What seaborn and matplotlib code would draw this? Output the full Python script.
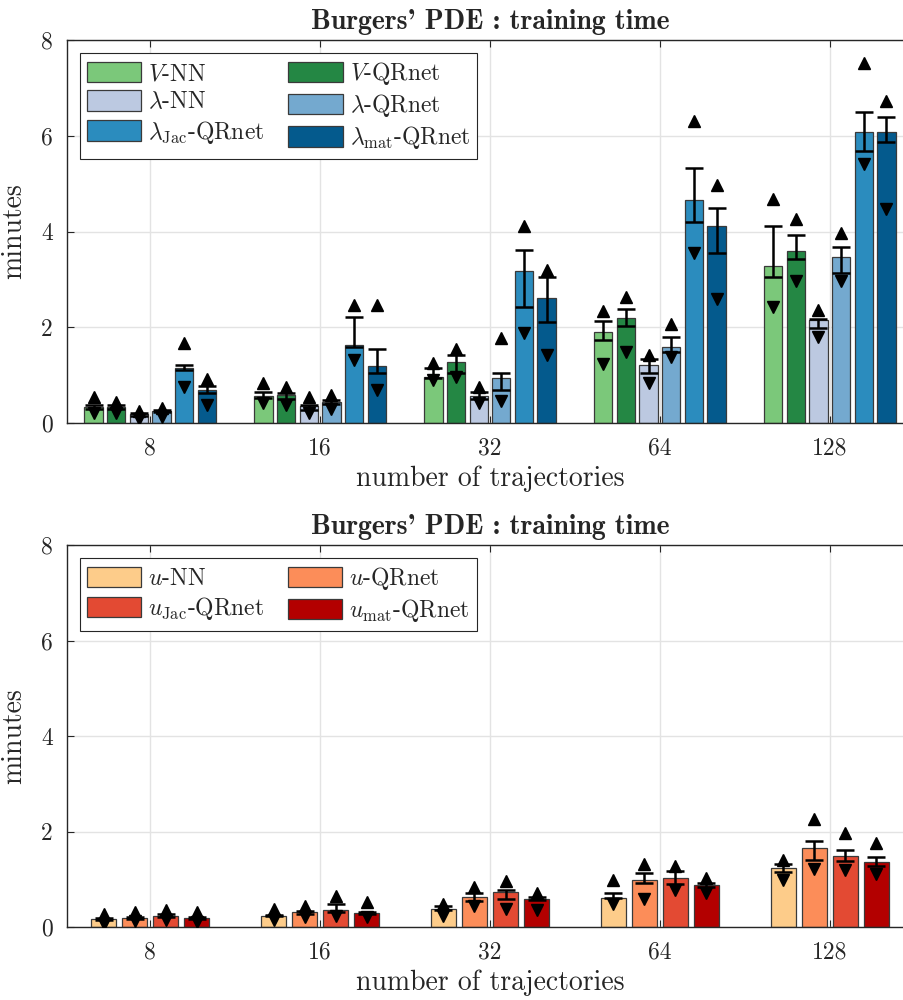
import numpy as np
import pandas as pd
import matplotlib
matplotlib.use("Agg")
import matplotlib.pyplot as plt
import seaborn as sns

# ---------------- data ----------------
trajectories = ["8", "16", "32", "64", "128"]

top_methods = [r"$V$-NN", r"$V$-QRnet", r"$\lambda$-NN", r"$\lambda$-QRnet",
               r"$\lambda_{\rm Jac}$-QRnet", r"$\lambda_{\rm mat}$-QRnet"]
top_colors = ["#7bc87a", "#248744", "#bcc9e1", "#74a9cf", "#2b8cbe", "#045a8d"]

# rows: methods, columns: trajectories
top_mean = [[0.34, 0.56, 0.96, 1.91, 3.27],
            [0.34, 0.58, 1.27, 2.19, 3.60],
            [0.18, 0.35, 0.56, 1.22, 2.15],
            [0.25, 0.44, 0.93, 1.59, 3.46],
            [1.14, 1.63, 3.18, 4.65, 6.07],
            [0.69, 1.20, 2.62, 4.11, 6.07]]
top_hi = [[0.37, 0.65, 1.14, 2.14, 4.12],
          [0.37, 0.63, 1.43, 2.38, 3.93],
          [0.20, 0.38, 0.65, 1.33, 2.17],
          [0.27, 0.48, 1.04, 1.79, 3.67],
          [1.22, 2.21, 3.62, 5.33, 6.50],
          [0.77, 1.55, 3.05, 4.49, 6.40]]
top_lo = [[0.30, 0.53, 0.93, 1.73, 3.04],
          [0.30, 0.51, 1.04, 2.03, 3.42],
          [0.15, 0.28, 0.50, 1.04, 1.98],
          [0.22, 0.39, 0.69, 1.48, 3.14],
          [1.10, 1.59, 2.42, 4.19, 5.69],
          [0.63, 1.05, 2.10, 3.55, 5.87]]
top_max = [[0.55, 0.84, 1.25, 2.34, 4.67],
           [0.44, 0.75, 1.54, 2.63, 4.27],
           [0.25, 0.55, 0.75, 1.42, 2.35],
           [0.31, 0.58, 1.77, 2.06, 3.97],
           [1.68, 2.47, 4.12, 6.30, 7.53],
           [0.91, 2.47, 3.20, 4.98, 6.73]]
top_min = [[0.21, 0.42, 0.90, 1.24, 2.43],
           [0.20, 0.37, 0.96, 1.49, 2.97],
           [0.08, 0.20, 0.42, 0.83, 1.80],
           [0.12, 0.30, 0.46, 1.38, 2.97],
           [0.75, 1.31, 1.87, 3.56, 5.42],
           [0.37, 0.69, 1.43, 2.59, 4.47]]

bot_methods = [r"$u$-NN", r"$u$-QRnet", r"$u_{\rm Jac}$-QRnet", r"$u_{\rm mat}$-QRnet"]
bot_colors = ["#fdcc8a", "#fc8d59", "#e34a33", "#b30000"]

bot_mean = [[0.16, 0.24, 0.38, 0.61, 1.23],
            [0.18, 0.31, 0.63, 0.98, 1.66],
            [0.24, 0.36, 0.73, 1.02, 1.49],
            [0.19, 0.30, 0.59, 0.88, 1.36]]
bot_hi = [[0.18, 0.26, 0.43, 0.71, 1.32],
          [0.20, 0.33, 0.72, 1.14, 1.80],
          [0.27, 0.49, 0.78, 1.17, 1.62],
          [0.21, 0.32, 0.63, 0.93, 1.46]]
bot_lo = [[0.14, 0.22, 0.35, 0.60, 1.15],
          [0.16, 0.28, 0.54, 0.93, 1.41],
          [0.21, 0.31, 0.59, 0.91, 1.39],
          [0.17, 0.28, 0.56, 0.84, 1.27]]
bot_max = [[0.27, 0.37, 0.49, 0.98, 1.41],
           [0.32, 0.45, 0.84, 1.32, 2.27],
           [0.35, 0.64, 0.96, 1.27, 1.97],
           [0.31, 0.52, 0.72, 1.03, 1.76]]
bot_min = [[0.06, 0.15, 0.24, 0.49, 0.99],
           [0.12, 0.21, 0.45, 0.58, 1.22],
           [0.14, 0.22, 0.38, 0.77, 1.20],
           [0.10, 0.20, 0.35, 0.71, 1.12]]

title_text = "Burgers' PDE : training time"
xlabel_text = "number of trajectories"
ylabel_text = "minutes"
yticks = [0, 2, 4, 6, 8]

# ---------------- style ----------------
sns.set_style("whitegrid")
plt.rcParams["font.family"] = ["cmr10", "DejaVu Serif"]
plt.rcParams["mathtext.fontset"] = "cm"
plt.rcParams["axes.unicode_minus"] = False
plt.rcParams["axes.formatter.use_mathtext"] = True

fig = plt.figure(figsize=(9.04, 10.0), dpi=100)
ax_top = fig.add_axes([67 / 904, 1 - 423 / 1000, 846 / 904, 383 / 1000])
ax_bot = fig.add_axes([67 / 904, 1 - 927 / 1000, 846 / 904, 382 / 1000])


def draw(ax, methods, colors, mean, hi, lo, mx, mn, width, gap, legend_order):
    rows = []
    for m, vals in zip(methods, mean):
        for t, v in zip(trajectories, vals):
            rows.append({"traj": t, "method": m, "minutes": v})
    df = pd.DataFrame(rows)
    sns.barplot(data=df, x="traj", y="minutes", hue="method", order=trajectories,
                hue_order=methods, palette=colors, errorbar=None, width=width,
                gap=gap, edgecolor="#3a3a3a", linewidth=0.9, saturation=1.0,
                ax=ax, zorder=2)
    for cont, mv, hv, lv, xv, nv in zip(ax.containers, mean, hi, lo, mx, mn):
        xs = [p.get_x() + p.get_width() / 2 for p in cont.patches]
        mv = np.array(mv); hv = np.array(hv); lv = np.array(lv)
        ax.errorbar(xs, mv, yerr=[mv - lv, hv - mv], fmt="none", ecolor="black",
                    elinewidth=1.8, capsize=6.5, capthick=1.8, zorder=4)
        ax.plot(xs, xv, linestyle="none", marker="^", color="black", ms=8.5, zorder=5)
        ax.plot(xs, nv, linestyle="none", marker="v", color="black", ms=8.5, zorder=5)

    ax.set_xlim(-0.49, 4.49)
    ax.set_ylim(0, 8)
    ax.set_yticks(yticks)
    ax.set_yticklabels([str(v) for v in yticks])
    ax.set_xlabel(xlabel_text, fontsize=20, labelpad=5)
    ax.set_ylabel(ylabel_text, fontsize=20, labelpad=10)
    ax.set_title(title_text, fontsize=20, fontfamily="cmb10", pad=8)
    ax.grid(True, color="#e3e3e3", linewidth=1.0, zorder=0)
    ax.set_axisbelow(True)
    for side, sp in ax.spines.items():
        sp.set_color("#262626")
        sp.set_linewidth(1.0)
    ax.spines["right"].set_visible(False)
    ax.tick_params(axis="both", direction="in", length=5, width=0.8, color="#262626",
                   labelsize=17, top=True, right=False, bottom=True, left=True)
    ax.tick_params(axis="x", pad=10)
    ax.tick_params(axis="y", pad=10)

    handles, labels = ax.get_legend_handles_labels()
    handles = [handles[i] for i in legend_order]
    labels = [labels[i] for i in legend_order]
    leg = ax.legend(handles, labels, ncol=2, loc="upper left", fontsize=17,
                    frameon=True, fancybox=False, edgecolor="#262626",
                    framealpha=1.0, handlelength=2.3, handleheight=0.95,
                    handletextpad=0.3, columnspacing=1.0, labelspacing=0.22,
                    borderaxespad=0.55, borderpad=0.3)
    leg.get_frame().set_linewidth(0.8)


draw(ax_top, top_methods, top_colors, top_mean, top_hi, top_lo, top_max, top_min,
     0.8, 0.19, [0, 2, 4, 1, 3, 5])
draw(ax_bot, bot_methods, bot_colors, bot_mean, bot_hi, bot_lo, bot_max, bot_min,
     0.73, 0.2, [0, 2, 1, 3])

fig.savefig("out.png", dpi=100)
